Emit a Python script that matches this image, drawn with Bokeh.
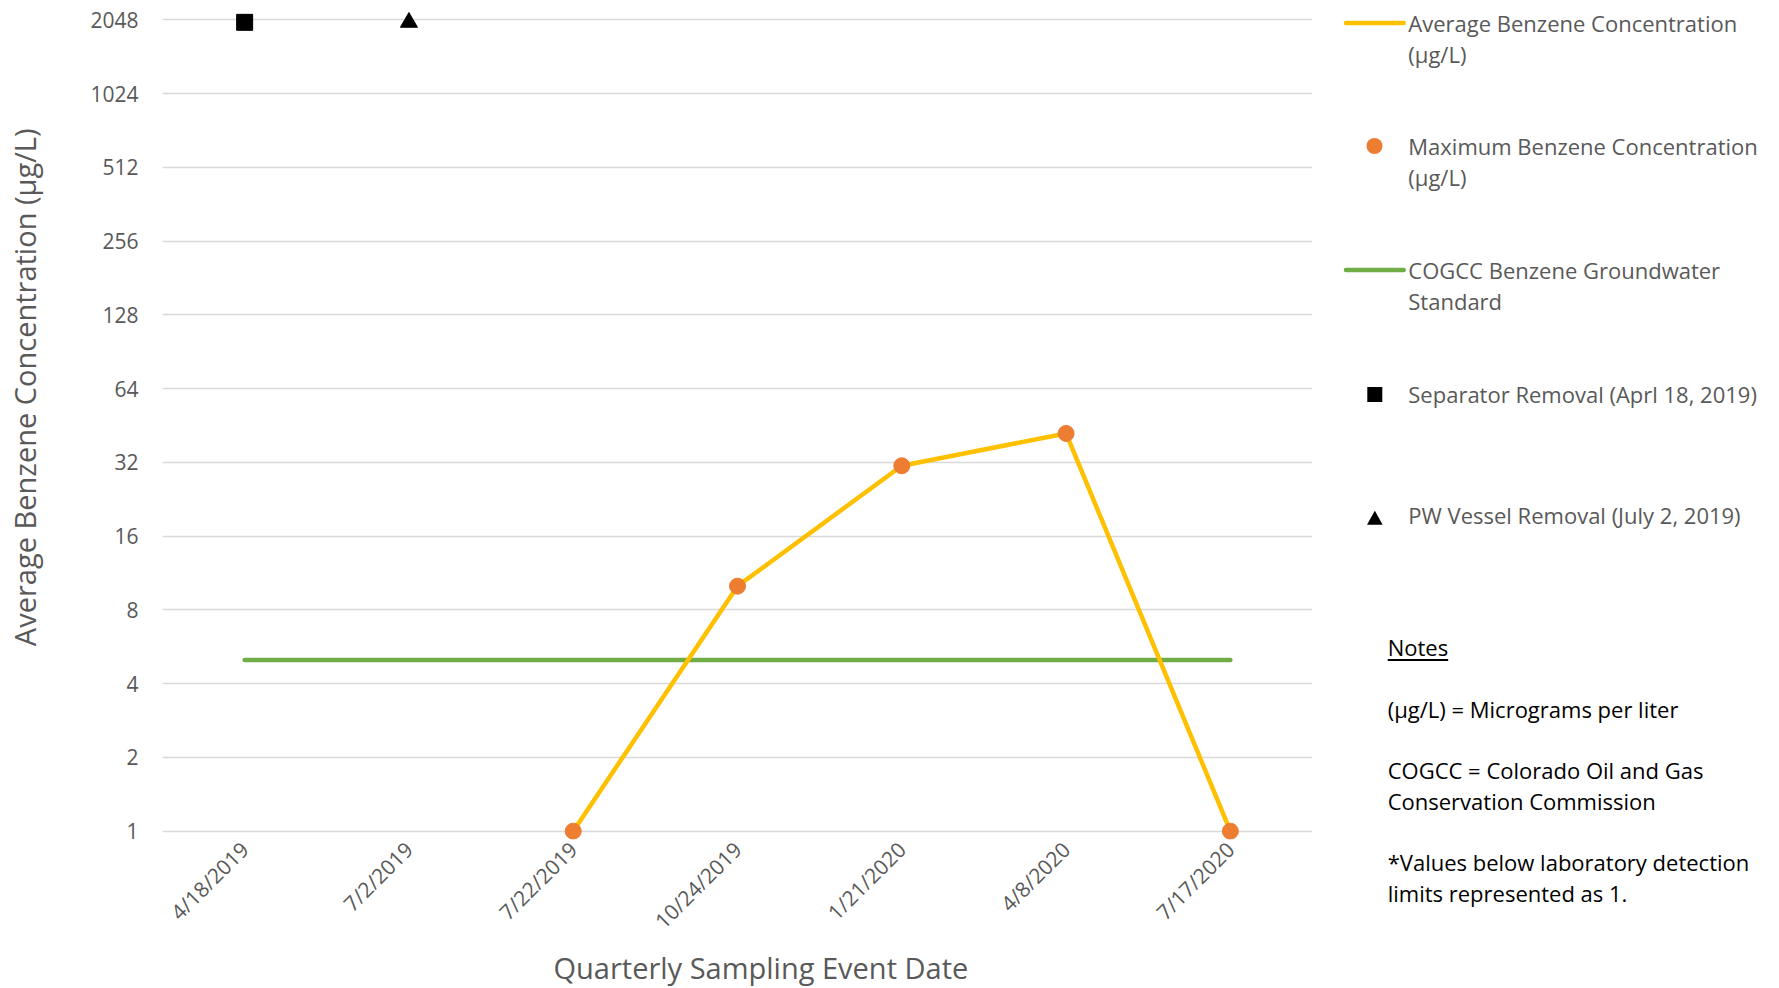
from math import pi
import numpy as np
from bokeh.plotting import figure
from bokeh.models import Range1d, FixedTicker, NumeralTickFormatter, Div, Title
from bokeh.layouts import row
from bokeh.embed import file_html
from bokeh.resources import INLINE

# ---------------- data ----------------
dates = ["4/18/2019", "7/2/2019", "7/22/2019", "10/24/2019", "1/21/2020", "4/8/2020", "7/17/2020"]
avg_conc = [np.nan, np.nan, 1, 10, 31, 42, 1]
max_conc = [np.nan, np.nan, 1, 10, 31, 42, 1]
cogcc_standard = [5, 5, 5, 5, 5, 5, 5]
separator_date = ["4/18/2019"]
separator_value = [2000]
pw_vessel_date = ["7/2/2019"]
pw_vessel_value = [2000]
y_ticks = [1, 2, 4, 8, 16, 32, 64, 128, 256, 512, 1024, 2048]

y_title = "Average Benzene Concentration (\u00b5g/L)"
x_title = "Quarterly Sampling Event Date"
legend_avg = ["Average Benzene Concentration", "(\u00b5g/L)"]
legend_max = ["Maximum Benzene Concentration", "(\u00b5g/L)"]
legend_std = ["COGCC Benzene Groundwater", "Standard"]
legend_sep = ["Separator Removal (Aprl 18, 2019)"]
legend_pw = ["PW Vessel Removal (July 2, 2019)"]
notes_title = "Notes"
notes_blocks = [["(\u00b5g/L) = Micrograms per liter"],
                ["COGCC = Colorado Oil and Gas", "Conservation Commission"],
                ["*Values below laboratory detection", "limits represented as 1."]]

FONT = "Open Sans"
GREY = "#595959"
YELLOW = "#FFC000"
ORANGE = "#ED7D31"
GREEN = "#70AD47"

# ---------------- main chart ----------------
p = figure(x_range=dates, y_axis_type="log", y_range=Range1d(0.9249, 2277.6),
           width=1318, height=988, min_border_left=162, min_border_right=6,
           min_border_top=8, min_border_bottom=140, title=None,
           output_backend="svg", toolbar_location=None)
p.outline_line_color = None
p.xgrid.visible = False
p.ygrid.grid_line_color = "#D9D9D9"
p.ygrid.grid_line_width = 1.5

p.yaxis.ticker = FixedTicker(ticks=y_ticks)
p.yaxis.formatter = NumeralTickFormatter(format="0")
for ax in (p.xaxis, p.yaxis):
    ax.axis_line_color = None
    ax.major_tick_line_color = None
    ax.minor_tick_line_color = None
    ax.major_tick_in = 0
    ax.major_tick_out = 0
    ax.minor_tick_in = 0
    ax.minor_tick_out = 0
    ax.major_label_text_font = FONT
    ax.major_label_text_font_size = "21px"
    ax.major_label_text_color = GREY
p.yaxis.major_label_standoff = 24
p.xaxis.major_label_standoff = 6
p.xaxis.major_label_orientation = pi / 4

# spacer between the y tick labels and the y title (keeps the title at the left edge)
p.yaxis.axis_label = "\u00a0"
p.yaxis.axis_label_text_font_size = "1px"
p.yaxis.axis_label_standoff = 38

p.add_layout(Title(text=y_title, align="right", offset=120, vertical_align="top",
                   standoff=0, text_font=FONT, text_font_size="29px",
                   text_font_style="normal", text_color=GREY), "left")
p.add_layout(Title(text=x_title, align="left", offset=391, vertical_align="top",
                   standoff=0, text_font=FONT, text_font_size="29px",
                   text_font_style="normal", text_color=GREY), "below")

p.line(dates, cogcc_standard, line_color=GREEN, line_width=4.5, line_cap="round")
p.line(dates, avg_conc, line_color=YELLOW, line_width=4.5, line_join="round")
p.scatter(dates, max_conc, marker="circle", size=16, fill_color=ORANGE, line_color=ORANGE)
p.scatter(separator_date, separator_value, marker="square", size=16, fill_color="black", line_color="black")
p.scatter(pw_vessel_date, pw_vessel_value, marker="triangle", size=17, fill_color="black", line_color="black")

# ---------------- legend + notes panel ----------------
LW = 455
LH = 988
DX, DY = -4, -6


def text_block(lines, left, first_center, color, underline=False):
    top = first_center - 15.5 + DY
    deco = "text-decoration: underline; text-underline-offset: 3px;" if underline else ""
    return (f'<div style="position:absolute; left:{left + DX}px; top:{top}px; '
            f'font-family:\'{FONT}\'; font-size:22px; line-height:31px; color:{color}; '
            f'white-space:nowrap; {deco}">' + "<br>".join(lines) + "</div>")


swatches = (
    f'<svg width="{LW}" height="560" style="position:absolute; left:{DX}px; top:{DY}px;">'
    f'<line x1="27" y1="24" x2="84.7" y2="24" stroke="{YELLOW}" stroke-width="4.5" stroke-linecap="round"/>'
    f'<circle cx="55.5" cy="147" r="8" fill="{ORANGE}"/>'
    f'<line x1="27" y1="271" x2="84.7" y2="271" stroke="{GREEN}" stroke-width="4.5" stroke-linecap="round"/>'
    f'<rect x="48.3" y="388" width="15" height="15" fill="black"/>'
    f'<polygon points="48,525.7 63.7,525.7 55.85,511.7" fill="black"/>'
    '</svg>'
)

html = (f'<div style="position:relative; width:{LW}px; height:{LH}px; background:white;">'
        + swatches
        + text_block(legend_avg, 89.3, 24, GREY)
        + text_block(legend_max, 89.3, 147, GREY)
        + text_block(legend_std, 89.3, 271, GREY)
        + text_block(legend_sep, 89.3, 395.5, GREY)
        + text_block(legend_pw, 89.3, 516.7, GREY)
        + text_block([notes_title], 68.7, 648.3, "black", underline=True)
        + text_block(notes_blocks[0], 68.7, 710, "black")
        + text_block(notes_blocks[1], 68.7, 771.7, "black")
        + text_block(notes_blocks[2], 68.7, 863.3, "black")
        + '</div>')

legend_panel = Div(text=html, width=LW, height=LH)

layout = row(p, legend_panel)
open("out.html", "w").write(file_html(layout, INLINE))
